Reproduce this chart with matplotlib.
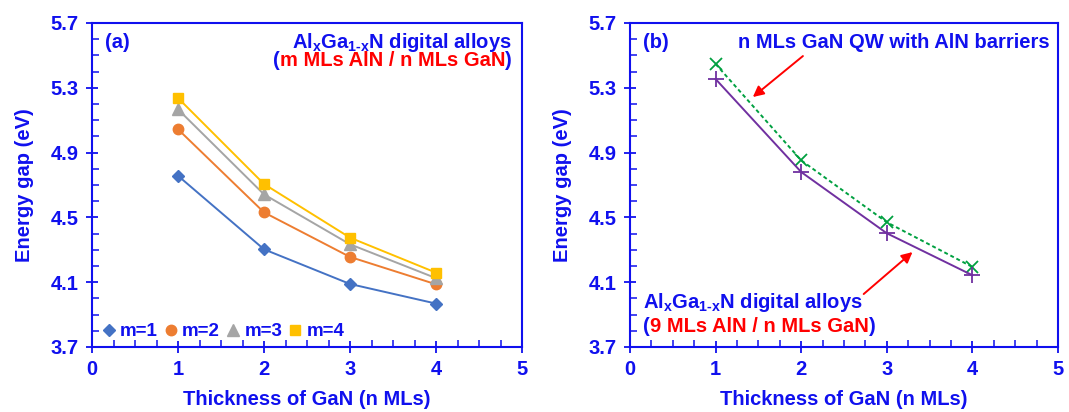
import matplotlib
matplotlib.use("Agg")
import matplotlib.pyplot as plt
from matplotlib.lines import Line2D
from matplotlib.ticker import MultipleLocator

plt.rcParams['font.family'] = ['Liberation Sans', 'DejaVu Sans']
plt.rcParams['font.weight'] = 'bold'
plt.rcParams['mathtext.fontset'] = 'custom'
plt.rcParams['mathtext.rm'] = 'Liberation Sans:bold'
plt.rcParams['mathtext.it'] = 'Liberation Sans:bold'
plt.rcParams['mathtext.bf'] = 'Liberation Sans:bold'

# ---- data ----
n_mls = [1, 2, 3, 4]
m_labels = ['m=1', 'm=2', 'm=3', 'm=4']
gap_m1 = [4.757, 4.303, 4.089, 3.968]
gap_m2 = [5.044, 4.531, 4.256, 4.087]
gap_m3 = [5.167, 4.642, 4.334, 4.125]
gap_m4 = [5.237, 4.706, 4.375, 4.159]
gap_qw = [5.447, 4.852, 4.470, 4.194]
gap_da9 = [5.354, 4.780, 4.402, 4.143]

BLUE = '#1010EE'
RED = '#FF0000'
FS = 14.5
colors_m = ['#4472C4', '#ED7D31', '#A5A5A5', '#FFC000']
markers_m = ['D', 'o', '^', 's']
msizes_m = [6, 7.5, 8, 7.5]

fig = plt.figure(figsize=(10.69, 4.12), dpi=100)
axa = fig.add_axes([92/1069, 65/412, 430/1069, 324/412])
axb = fig.add_axes([630/1069, 65/412, 428/1069, 324/412])


def style(ax):
    ax.set_xlim(0, 5)
    ax.set_ylim(3.7, 5.7)
    ax.xaxis.set_major_locator(MultipleLocator(1))
    ax.xaxis.set_minor_locator(MultipleLocator(0.25))
    ax.yaxis.set_minor_locator(MultipleLocator(0.1))
    ax.set_yticks([3.7, 4.1, 4.5, 4.9, 5.3, 5.7])
    ax.set_yticklabels(['3.7', '4.1', '4.5', '4.9', '5.3', '5.7'])
    for s in ax.spines.values():
        s.set_color(BLUE)
        s.set_linewidth(1.5)
    ax.tick_params(which='major', direction='inout', length=9, width=1.3,
                   color=BLUE, labelcolor=BLUE, labelsize=FS, pad=5)
    ax.tick_params(which='minor', direction='in', length=5, width=1.1,
                   color=BLUE)
    for lab in ax.get_xticklabels() + ax.get_yticklabels():
        lab.set_fontweight('bold')
    ax.set_xlabel('Thickness of GaN (n MLs)', color=BLUE, fontsize=FS,
                  fontweight='bold', labelpad=8)
    ax.set_ylabel('Energy gap (eV)', color=BLUE, fontsize=FS,
                  fontweight='bold', labelpad=12)


style(axa)
style(axb)

# ---- panel (a) ----
for vals, c, mk, ms in zip([gap_m1, gap_m2, gap_m3, gap_m4], colors_m,
                           markers_m, msizes_m):
    axa.plot(n_mls, vals, color=c, lw=1.4, marker=mk, ms=ms,
             markeredgecolor=c, zorder=3)

handles = [Line2D([], [], ls='none', marker=mk, color=c, ms=ms)
           for c, mk, ms in zip(colors_m, markers_m, msizes_m)]
leg = axa.legend(handles, m_labels, ncol=4, loc='lower left',
                 bbox_to_anchor=(-0.005, -0.02), frameon=False,
                 handlelength=0.6, handletextpad=0.3, columnspacing=0.4,
                 prop={'weight': 'bold', 'size': 13.5}, borderaxespad=0.3)
for t in leg.get_texts():
    t.set_color(BLUE)

axa.text(0.030, 0.922, '(a)', transform=axa.transAxes, color=BLUE,
         fontsize=FS, fontweight='bold', ha='left', va='baseline')
axa.text(0.977, 0.922, r'Al$_{x}$Ga$_{1\text{-}x}$N digital alloys',
         transform=axa.transAxes, color=BLUE, fontsize=FS,
         fontweight='bold', ha='right', va='baseline')


def mixed_right(ax, xr, y, parts, fs=FS):
    """parts drawn right-to-left ending at xr."""
    prev = None
    for txt, col in reversed(parts):
        if prev is None:
            prev = ax.text(xr, y, txt, transform=ax.transAxes, color=col,
                           fontsize=fs, fontweight='bold', ha='right',
                           va='baseline')
        else:
            prev = ax.annotate(txt, xy=(0, y), xycoords=(prev, ax.transAxes),
                               color=col, fontsize=fs, fontweight='bold',
                               ha='right', va='baseline')


def mixed_left(ax, xl, y, parts, fs=FS):
    prev = None
    for txt, col in parts:
        if prev is None:
            prev = ax.text(xl, y, txt, transform=ax.transAxes, color=col,
                           fontsize=fs, fontweight='bold', ha='left',
                           va='baseline')
        else:
            prev = ax.annotate(txt, xy=(1, y), xycoords=(prev, ax.transAxes),
                               color=col, fontsize=fs, fontweight='bold',
                               ha='left', va='baseline')


mixed_right(axa, 0.977, 0.866, [('(', BLUE), ('m MLs AlN / n MLs GaN', RED),
                                 (')', BLUE)])

# ---- panel (b) ----
axb.plot(n_mls, gap_qw, color='#00A040', lw=1.4, ls=(0, (2, 1.5)),
         marker='x', ms=9, mew=1.3, zorder=3)
axb.plot(n_mls, gap_da9, color='#7030A0', lw=1.4, marker='+', ms=11,
         mew=1.3, zorder=3)

axb.text(0.030, 0.922, '(b)', transform=axb.transAxes, color=BLUE,
         fontsize=FS, fontweight='bold', ha='left', va='baseline')
axb.text(0.981, 0.922, 'n MLs GaN QW with AlN barriers',
         transform=axb.transAxes, color=BLUE, fontsize=FS,
         fontweight='bold', ha='right', va='baseline')
axb.text(0.030, 0.120, r'Al$_{x}$Ga$_{1\text{-}x}$N digital alloys',
         transform=axb.transAxes, color=BLUE, fontsize=FS,
         fontweight='bold', ha='left', va='baseline')
mixed_left(axb, 0.030, 0.045, [('(', BLUE), ('9 MLs AlN / n MLs GaN', RED),
                                (')', BLUE)])

axb.annotate('', xy=(1.435, 5.243), xytext=(2.02, 5.496),
             arrowprops=dict(arrowstyle='-|>', color=RED, lw=1.4,
                             mutation_scale=16, shrinkA=0, shrinkB=0))
axb.annotate('', xy=(3.30, 4.286), xytext=(2.73, 4.027),
             arrowprops=dict(arrowstyle='-|>', color=RED, lw=1.4,
                             mutation_scale=16, shrinkA=0, shrinkB=0))

fig.savefig('out.png', dpi=100)
